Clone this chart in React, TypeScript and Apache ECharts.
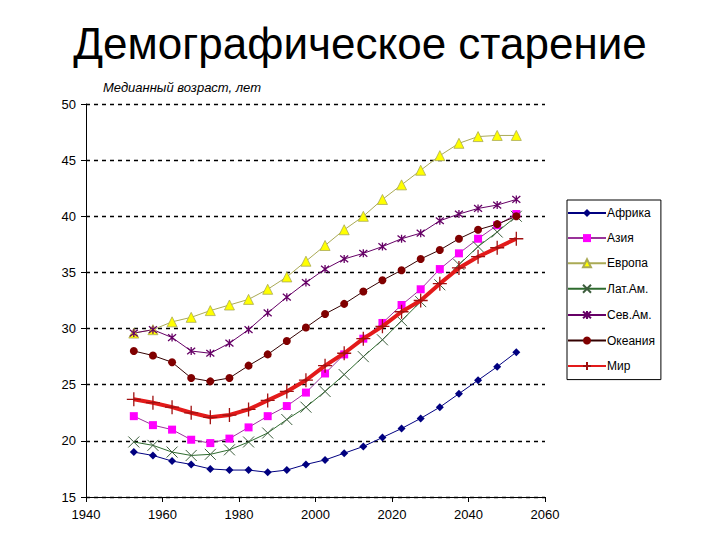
import React, { useEffect, useRef } from "react";
import * as echarts from "echarts";

const years = [1952.5, 1957.5, 1962.5, 1967.5, 1972.5, 1977.5, 1982.5, 1987.5, 1992.5, 1997.5, 2002.5, 2007.5, 2012.5, 2017.5, 2022.5, 2027.5, 2032.5, 2037.5, 2042.5, 2047.5, 2052.5];
const africa = [19.0, 18.7, 18.2, 17.9, 17.5, 17.4, 17.4, 17.2, 17.4, 17.9, 18.3, 18.9, 19.5, 20.3, 21.1, 22.0, 23.0, 24.2, 25.4, 26.6, 27.9];
const asia = [22.2, 21.4, 21.0, 20.1, 19.8, 20.2, 21.2, 22.2, 23.1, 24.3, 26.0, 27.7, 29.1, 30.5, 32.1, 33.5, 35.3, 36.7, 38.0, 39.2, 40.2];
const europe = [29.6, 29.9, 30.6, 31.0, 31.6, 32.1, 32.6, 33.5, 34.6, 36.0, 37.4, 38.8, 40.0, 41.5, 42.8, 44.1, 45.4, 46.5, 47.1, 47.2, 47.2];
const latam = [19.9, 19.6, 19.0, 18.7, 18.8, 19.2, 19.9, 20.7, 21.9, 23.0, 24.4, 25.9, 27.5, 29.0, 30.7, 32.4, 33.9, 35.7, 37.3, 38.6, 40.0];
const namerica = [29.6, 29.9, 29.2, 28.0, 27.8, 28.7, 29.9, 31.4, 32.8, 34.1, 35.3, 36.2, 36.7, 37.3, 38.0, 38.5, 39.6, 40.2, 40.7, 41.0, 41.5];
const oceania = [28.0, 27.6, 27.0, 25.6, 25.3, 25.6, 26.7, 27.7, 28.9, 30.1, 31.3, 32.2, 33.3, 34.3, 35.2, 36.2, 37.0, 38.0, 38.8, 39.3, 40.0];
const world = [23.7, 23.4, 23.0, 22.5, 22.1, 22.3, 22.8, 23.6, 24.4, 25.4, 26.7, 27.8, 29.1, 30.2, 31.5, 32.5, 34.0, 35.4, 36.4, 37.2, 38.0];

const seriesNames = ["Африка", "Азия", "Европа", "Лат.Ам.", "Сев.Ам.", "Океания", "Мир"];
const titleText = "Демографическое старение";
const subtitleText = "Медианный возраст, лет";

const FONT = "'Liberation Sans', Arial, sans-serif";
const X_SYM = "path://M0,0L10,10M10,0L0,10";
const STAR_SYM = "path://M0,0L10,10M10,0L0,10M5,-1L5,11";
const PLUS_SYM = "path://M5,0L5,10M0,5L10,5";

function pairs(vals: number[]) {
  return years.map((y, i) => [y, vals[i]]);
}

export default function App() {
  const ref = useRef<HTMLDivElement>(null);
  useEffect(() => {
    if (!ref.current) return;
    const chart = echarts.init(ref.current, null, { renderer: "svg" });
    const mk = (
      name: string,
      vals: number[],
      lineColor: string,
      lineWidth: number,
      symbol: string,
      symbolSize: number,
      itemStyle: any
    ) => ({
      name,
      type: "line",
      data: pairs(vals),
      symbol,
      symbolSize,
      showAllSymbol: true,
      lineStyle: { color: lineColor, width: lineWidth },
      itemStyle,
      z: name === "Мир" ? 3 : 2,
    });
    chart.setOption({
      animation: false,
      backgroundColor: "#ffffff",
      textStyle: { fontFamily: FONT },
      title: {
        text: titleText,
        left: "center",
        top: 16,
        textStyle: { fontFamily: FONT, fontSize: 44, fontWeight: "normal", color: "#000" },
      },
      graphic: [
        {
          type: "text",
          left: 103,
          top: 81,
          style: { text: subtitleText, font: `italic 13px ${FONT}`, fill: "#000" },
        },
      ],
      legend: {
        orient: "vertical",
        left: 567,
        top: 200,
        width: 105,
        padding: [7, 6, 7, 0],
        itemWidth: 38,
        itemHeight: 10,
        itemGap: 13.1,
        borderColor: "#000",
        borderWidth: 1,
        backgroundColor: "#fff",
        textStyle: { fontFamily: FONT, fontSize: 12, color: "#000", padding: [0, 0, 0, -4] },
        data: seriesNames,
      },
      grid: { left: 86, right: 175, top: 104, bottom: 43, containLabel: false },
      xAxis: {
        type: "value",
        min: 1940,
        max: 2060,
        interval: 20,
        axisLine: { show: true, lineStyle: { color: "#000", width: 1 } },
        axisTick: { show: true, length: 5, lineStyle: { color: "#000" } },
        axisLabel: { color: "#000", fontSize: 13, fontFamily: FONT, margin: 11, formatter: (v: number) => String(v) },
        splitLine: { show: false },
      },
      yAxis: {
        type: "value",
        min: 15,
        max: 50,
        interval: 5,
        axisLine: { show: true, lineStyle: { color: "#000", width: 1 } },
        axisTick: { show: true, length: 5, lineStyle: { color: "#000" } },
        axisLabel: { color: "#000", fontSize: 13, fontFamily: FONT, margin: 10 },
        splitLine: { show: true, lineStyle: { color: "#000", type: [4, 4], width: 1.3 } },
      },
      series: [
        mk(seriesNames[0], africa, "#000080", 1, "diamond", 8, { color: "#000080" }),
        mk(seriesNames[1], asia, "#993399", 1, "rect", 8, { color: "#FF00FF" }),
        mk(seriesNames[2], europe, "#AAAA55", 1, "triangle", 10, { color: "#FFFF00", borderColor: "#AAAA55", borderWidth: 0.8 }),
        mk(seriesNames[3], latam, "#2E6B2E", 1, X_SYM, 11, { color: "none", borderColor: "#3D5E3D", borderWidth: 1 }),
        mk(seriesNames[4], namerica, "#660066", 1, STAR_SYM, 8, { color: "none", borderColor: "#660066", borderWidth: 1.3 }),
        mk(seriesNames[5], oceania, "#330000", 1, "circle", 8, { color: "#800000" }),
        mk(seriesNames[6], world, "#E31A1A", 4, PLUS_SYM, 14, { color: "none", borderColor: "#A01010", borderWidth: 1.3 }),
      ],
    });
    return () => chart.dispose();
  }, []);
  return <div ref={ref} style={{ width: 720, height: 540, position: "absolute", left: 0, top: 0 }} />;
}
